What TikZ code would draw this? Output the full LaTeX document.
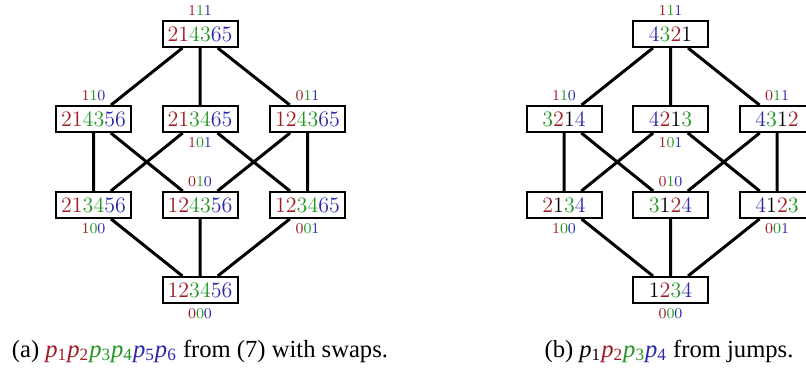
\documentclass[tikz,border=0pt]{standalone}
\usepackage{fontspec}
\newfontfamily\capfont{Liberation Serif}
\usepackage{xcolor}
\definecolor{cr}{RGB}{160,25,35}
\definecolor{cg}{RGB}{35,150,35}
\definecolor{cb}{RGB}{40,40,170}
\newcommand\Rd[1]{\textcolor{cr}{#1}}
\newcommand\Gn[1]{\textcolor{cg}{#1}}
\newcommand\Bl[1]{\textcolor{cb}{#1}}
\newcommand\lab[3]{\Rd{#1}\Gn{#2}\Bl{#3}}
\newcommand\pp[1]{\textit{p}\textsubscript{#1}}
\begin{document}
\begin{tikzpicture}[x=0.5pt,y=-0.5pt,
  perm/.style={draw,line width=1pt,minimum width=37.5pt,minimum height=13pt,inner sep=1pt,font=\fontsize{11}{13}\selectfont},
  lab/.style={font=\fontsize{7.5}{9}\selectfont,inner sep=2pt},
  edge/.style={line width=1.5pt},
  captxt/.style={anchor=base,font=\capfont\fontsize{12.3}{14}\selectfont}]
\path[use as bounding box] (0,0) rectangle (806,368);
\clip (0,0) rectangle (806,368);
% left diagram
\node[perm,label={[lab]above:\lab111}] (a111) at (200,34) {\Rd{21}\Gn{43}\Bl{65}};
\node[perm,label={[lab]above:\lab110}] (a110) at (93.5,119) {\Rd{21}\Gn{43}\Bl{56}};
\node[perm,label={[lab]below:\lab101}] (a101) at (200,119) {\Rd{21}\Gn{34}\Bl{65}};
\node[perm,label={[lab]above:\lab011}] (a011) at (307.5,119) {\Rd{12}\Gn{43}\Bl{65}};
\node[perm,label={[lab]below:\lab100}] (a100) at (93.5,205) {\Rd{21}\Gn{34}\Bl{56}};
\node[perm,label={[lab]above:\lab010}] (a010) at (200,205) {\Rd{12}\Gn{43}\Bl{56}};
\node[perm,label={[lab]below:\lab001}] (a001) at (307.5,205) {\Rd{12}\Gn{34}\Bl{65}};
\node[perm,label={[lab]below:\lab000}] (a000) at (200,290) {\Rd{12}\Gn{34}\Bl{56}};
\draw[edge] (a111)--(a110) (a111)--(a101) (a111)--(a011)
  (a110)--(a100) (a110)--(a010) (a101)--(a100) (a101)--(a001)
  (a011)--(a010) (a011)--(a001)
  (a100)--(a000) (a010)--(a000) (a001)--(a000);
% right diagram
\node[perm,label={[lab]above:\lab111}] (b111) at (670.5,34) {\Bl{4}\Gn{3}\Rd{2}1};
\node[perm,label={[lab]above:\lab110}] (b110) at (564,119) {\Gn{3}\Rd{2}1\Bl{4}};
\node[perm,label={[lab]below:\lab101}] (b101) at (670.5,119) {\Bl{4}\Rd{2}1\Gn{3}};
\node[perm,label={[lab]above:\lab011}] (b011) at (777,119) {\Bl{4}\Gn{3}1\Rd{2}};
\node[perm,label={[lab]below:\lab100}] (b100) at (564,205) {\Rd{2}1\Gn{3}\Bl{4}};
\node[perm,label={[lab]above:\lab010}] (b010) at (670.5,205) {\Gn{3}1\Rd{2}\Bl{4}};
\node[perm,label={[lab]below:\lab001}] (b001) at (777,205) {\Bl{4}1\Rd{2}\Gn{3}};
\node[perm,label={[lab]below:\lab000}] (b000) at (670.5,290) {1\Rd{2}\Gn{3}\Bl{4}};
\draw[edge] (b111)--(b110) (b111)--(b101) (b111)--(b011)
  (b110)--(b100) (b110)--(b010) (b101)--(b100) (b101)--(b001)
  (b011)--(b010) (b011)--(b001)
  (b100)--(b000) (b010)--(b000) (b001)--(b000);
% captions
\node[captxt] (capa) at (200,357) {(a) \Rd{\pp1\pp2}\Gn{\pp3\pp4}\Bl{\pp5\pp6} from (7) with swaps.};
\node[captxt] (capb) at (669,357) {(b) \pp1\Rd{\pp2}\Gn{\pp3}\Bl{\pp4} from jumps.};
\end{tikzpicture}
\end{document}
